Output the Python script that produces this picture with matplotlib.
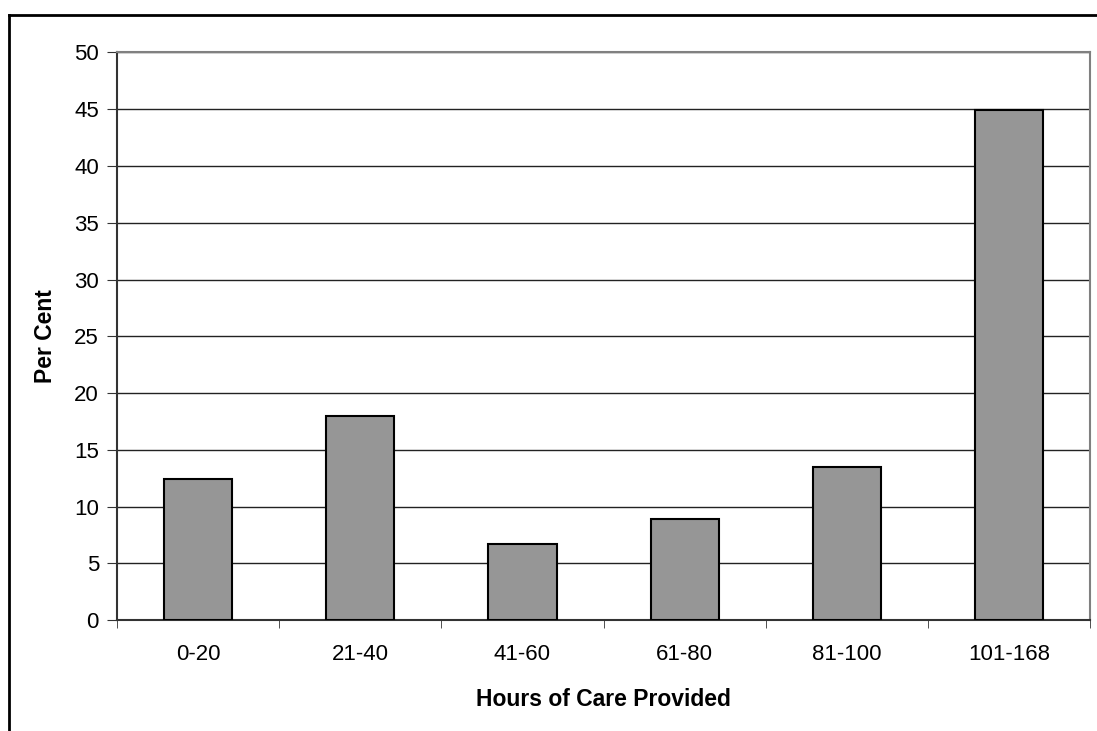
import matplotlib.pyplot as plt
from matplotlib.lines import Line2D

plt.rcParams['font.family'] = ['Liberation Sans', 'DejaVu Sans']

# Share of carers by weekly hours of care
categories = ['0-20', '21-40', '41-60', '61-80', '81-100', '101-168']
per_cent = [12.4, 18.0, 6.7, 8.9, 13.5, 44.9]

fig = plt.figure(figsize=(10.97, 7.31), dpi=100)
ax = fig.add_axes([0.1067, 0.1518, 0.8870, 0.7764])

x = range(len(categories))
ax.bar(x, per_cent, width=0.42, color='#969696', edgecolor='black', linewidth=1.5, zorder=3)

ax.set_xlim(-0.5, len(categories) - 0.5)
ax.set_ylim(0, 50)
ax.set_yticks(range(0, 51, 5))
ax.yaxis.grid(True, color='#222222', linewidth=1.0, zorder=0)

# category labels centred, tick marks between categories
ax.set_xticks(list(x))
ax.set_xticklabels(categories)
ax.tick_params(axis='x', length=0, pad=17, labelsize=16)
ax.set_xticks([i - 0.5 for i in range(len(categories) + 1)], minor=True)
ax.tick_params(axis='x', which='minor', length=6, direction='out', color='#333333')
ax.tick_params(axis='y', length=7, direction='out', color='#333333', labelsize=16, pad=6)

for side in ['top', 'right']:
    ax.spines[side].set_color('#808080')
    ax.spines[side].set_linewidth(1.5)
for side in ['left', 'bottom']:
    ax.spines[side].set_color('#333333')
    ax.spines[side].set_linewidth(1.5)

ax.set_ylabel('Per Cent', fontsize=16.5, fontweight='bold', labelpad=12)
ax.set_xlabel('Hours of Care Provided', fontsize=16.5, fontweight='bold', labelpad=17)

# outer chart frame (top and left edges)
fig.add_artist(Line2D([9 / 1097, 9 / 1097], [0, 1 - 15 / 731], transform=fig.transFigure,
                      color='black', linewidth=2))
fig.add_artist(Line2D([9 / 1097, 1], [1 - 15 / 731, 1 - 15 / 731], transform=fig.transFigure,
                      color='black', linewidth=2))

fig.savefig('out.png', dpi=100)
